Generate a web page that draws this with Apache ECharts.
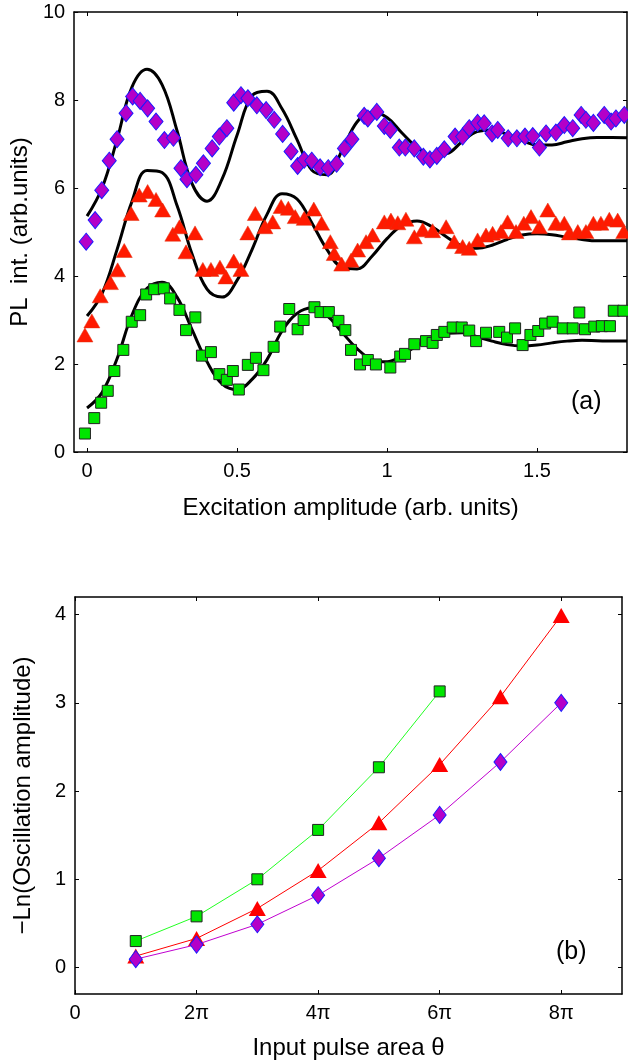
<!DOCTYPE html>
<html>
<head>
<meta charset="utf-8">
<script src="https://cdn.jsdelivr.net/npm/echarts@6/dist/echarts.min.js"></script>
<style>
html, body { margin: 0; padding: 0; background: #fff; }
#main { width: 628px; height: 1063px; }
</style>
</head>
<body>
<div id="main"></div>
<script>
// (a) measured PL intensity, x = excitation amplitude
var greenPts = [[-0.007,0.42],[0.024,0.77],[0.047,1.12],[0.069,1.39],[0.091,1.84],[0.121,2.32],[0.149,2.96],[0.177,3.11],[0.197,3.58],[0.224,3.70],[0.256,3.72],[0.277,3.49],[0.308,3.23],[0.330,2.77],[0.361,3.06],[0.383,2.19],[0.413,2.27],[0.441,1.77],[0.466,1.64],[0.486,1.84],[0.506,1.42],[0.536,1.98],[0.563,2.14],[0.588,1.86],[0.622,2.39],[0.644,2.85],[0.674,3.25],[0.702,2.79],[0.722,3.00],[0.758,3.29],[0.778,3.18],[0.806,3.18],[0.838,2.98],[0.861,2.77],[0.880,2.32],[0.910,1.99],[0.936,2.09],[0.963,1.99],[1.011,1.92],[1.044,2.17],[1.060,2.23],[1.091,2.45],[1.130,2.52],[1.152,2.48],[1.166,2.66],[1.191,2.73],[1.219,2.83],[1.249,2.83],[1.274,2.76],[1.297,2.52],[1.330,2.71],[1.374,2.73],[1.400,2.60],[1.427,2.81],[1.452,2.43],[1.478,2.66],[1.504,2.75],[1.527,2.92],[1.552,2.96],[1.586,2.81],[1.619,2.81],[1.641,3.17],[1.660,2.79],[1.691,2.85],[1.716,2.86],[1.743,2.86],[1.756,3.21],[1.788,3.21]];
var redPts = [[-0.007,2.66],[0.016,2.98],[0.044,3.55],[0.078,3.85],[0.102,4.14],[0.124,4.58],[0.147,5.42],[0.174,5.84],[0.202,5.92],[0.230,5.74],[0.252,5.50],[0.286,4.95],[0.308,5.12],[0.330,4.55],[0.360,4.98],[0.386,4.15],[0.413,4.15],[0.443,4.20],[0.463,3.98],[0.489,4.34],[0.513,4.15],[0.536,4.98],[0.561,5.42],[0.593,5.12],[0.619,5.23],[0.647,5.58],[0.671,5.54],[0.694,5.35],[0.724,5.31],[0.756,5.52],[0.782,5.20],[0.811,4.78],[0.824,4.51],[0.849,4.27],[0.880,4.36],[0.902,4.59],[0.930,4.78],[0.952,4.93],[0.991,5.23],[1.013,5.27],[1.036,5.21],[1.063,5.29],[1.091,4.89],[1.119,5.05],[1.152,5.03],[1.197,5.12],[1.224,4.78],[1.252,4.67],[1.274,4.63],[1.302,4.82],[1.330,4.93],[1.352,4.97],[1.380,5.01],[1.402,5.23],[1.430,5.01],[1.456,5.20],[1.480,5.35],[1.508,5.12],[1.536,5.50],[1.563,5.20],[1.591,5.20],[1.608,4.98],[1.636,5.01],[1.663,5.01],[1.688,5.20],[1.713,5.20],[1.741,5.29],[1.769,5.27],[1.789,5.01]];
var purplePts = [[-0.003,4.78],[0.027,5.27],[0.049,5.95],[0.074,6.62],[0.100,7.11],[0.130,7.70],[0.152,8.08],[0.177,7.98],[0.202,7.81],[0.230,7.51],[0.258,7.09],[0.288,7.14],[0.313,6.45],[0.333,6.20],[0.363,6.30],[0.388,6.56],[0.417,6.90],[0.441,7.17],[0.466,7.36],[0.489,7.94],[0.513,8.11],[0.536,8.04],[0.566,7.88],[0.597,7.77],[0.624,7.55],[0.652,7.23],[0.680,6.83],[0.702,6.50],[0.724,6.64],[0.749,6.62],[0.777,6.47],[0.804,6.45],[0.832,6.55],[0.858,6.90],[0.883,7.11],[0.924,7.64],[0.936,7.58],[0.966,7.73],[0.991,7.41],[1.011,7.32],[1.041,6.92],[1.061,6.92],[1.091,6.90],[1.121,6.71],[1.143,6.65],[1.166,6.73],[1.191,6.88],[1.227,7.17],[1.252,7.17],[1.274,7.36],[1.302,7.48],[1.324,7.47],[1.350,7.24],[1.369,7.32],[1.404,7.13],[1.433,7.13],[1.460,7.17],[1.486,7.18],[1.508,6.92],[1.530,7.24],[1.563,7.26],[1.591,7.43],[1.619,7.36],[1.647,7.66],[1.663,7.55],[1.688,7.48],[1.724,7.66],[1.747,7.51],[1.763,7.58],[1.791,7.66]];

var fitX = [0,0.05,0.10,0.15,0.20,0.25,0.30,0.35,0.40,0.45,0.50,0.55,0.60,0.65,0.70,0.75,0.80,0.85,0.90,0.95,1.00,1.05,1.10,1.15,1.20,1.25,1.30,1.35,1.40,1.45,1.50,1.55,1.60,1.65,1.70,1.75,1.80];
var fitGreen = [1.00,1.35,2.12,3.12,3.72,3.86,3.52,2.78,2.05,1.55,1.42,1.65,2.10,2.75,3.15,3.27,3.10,2.72,2.35,2.10,2.05,2.20,2.42,2.60,2.70,2.71,2.62,2.52,2.44,2.41,2.43,2.48,2.52,2.54,2.53,2.52,2.52];
var fitRed = [3.09,3.60,4.60,5.70,6.40,6.35,5.60,4.50,3.70,3.52,3.90,4.60,5.40,5.87,5.75,5.20,4.60,4.20,4.16,4.45,4.85,5.15,5.25,5.12,4.88,4.68,4.63,4.70,4.83,4.93,4.96,4.94,4.88,4.83,4.80,4.80,4.80];
var fitPurple = [5.36,6.00,7.10,8.30,8.70,8.35,7.30,6.10,5.70,6.20,7.20,8.10,8.20,7.80,7.10,6.40,6.30,6.85,7.50,7.72,7.60,7.25,6.92,6.74,6.78,7.05,7.28,7.32,7.22,7.08,6.98,6.98,7.05,7.12,7.15,7.15,7.14];

// (b) -Ln(oscillation amplitude) vs pulse area (units of pi)
var theta = [1,2,3,4,5,6,7,8];
var ampGreen = [0.30,0.58,1.00,1.56,2.27,3.13];
var ampRed = [0.13,0.33,0.67,1.10,1.64,2.30,3.07,3.99];
var ampPurple = [0.095,0.26,0.49,0.82,1.24,1.73,2.33,3.00];

var FONT = 'Liberation Sans';
var GREEN = '#00e600', RED = '#ff1a00', PURPLE = '#b400c8';

function pairs(xs, ys) {
    return ys.map(function (y, i) { return [xs[i], y]; });
}

function frameAxis(extra) {
    var a = {
        type: 'value',
        axisLine: { show: true, onZero: false, lineStyle: { color: '#000', width: 1.5 } },
        axisTick: { show: true, inside: true, length: 4, lineStyle: { color: '#000', width: 1 } },
        axisLabel: { show: false },
        splitLine: { show: false }
    };
    for (var k in extra) a[k] = extra[k];
    return a;
}
function ticksAt(vals) {
    return { show: true, inside: true, length: 4, customValues: vals, lineStyle: { color: '#000', width: 1 } };
}

var labelStyle = { color: '#000', fontFamily: FONT, fontSize: 20, margin: 9 };
var nameStyle = { color: '#000', fontFamily: FONT, fontSize: 24 };

var myChart = echarts.init(document.getElementById('main'));

option = {
    backgroundColor: '#fff',
    animation: false,
    grid: [
        { left: 73, top: 12, right: 1, bottom: 611 },
        { left: 75, top: 597, right: 6, bottom: 69 }
    ],
    xAxis: [
        frameAxis({
            gridIndex: 0, min: -0.043, max: 1.8, position: 'bottom',
            axisTick: ticksAt([0, 0.5, 1, 1.5]),
            axisLabel: Object.assign({ show: true, customValues: [0, 0.5, 1, 1.5] }, labelStyle),
            name: 'Excitation amplitude (arb. units)', nameLocation: 'middle', nameGap: 44,
            nameTextStyle: nameStyle
        }),
        frameAxis({ gridIndex: 0, min: -0.043, max: 1.8, position: 'top', axisTick: ticksAt([0, 0.5, 1, 1.5]) }),
        frameAxis({
            gridIndex: 1, min: 0, max: 9, position: 'bottom',
            axisTick: ticksAt([0, 2, 4, 6, 8]),
            axisLabel: Object.assign({
                show: true, customValues: [0, 2, 4, 6, 8],
                formatter: function (v) { return v === 0 ? '0' : v + 'π'; }
            }, labelStyle),
            name: 'Input pulse area θ', nameLocation: 'middle', nameGap: 42,
            nameTextStyle: nameStyle
        }),
        frameAxis({ gridIndex: 1, min: 0, max: 9, position: 'top', axisTick: ticksAt([0, 2, 4, 6, 8]) })
    ],
    yAxis: [
        frameAxis({
            gridIndex: 0, min: 0, max: 10, interval: 2, position: 'left',
            axisLabel: Object.assign({ show: true }, labelStyle),
            name: 'PL  int. (arb.units)', nameLocation: 'middle', nameGap: 38,
            nameTextStyle: nameStyle
        }),
        frameAxis({ gridIndex: 0, min: 0, max: 10, interval: 2, position: 'right' }),
        frameAxis({
            gridIndex: 1, min: -0.3, max: 4.2, position: 'left',
            axisTick: ticksAt([0, 1, 2, 3, 4]),
            axisLabel: Object.assign({ show: true, customValues: [0, 1, 2, 3, 4] }, labelStyle),
            name: '−Ln(Oscillation amplitude)', nameLocation: 'middle', nameGap: 40,
            nameTextStyle: nameStyle
        }),
        frameAxis({ gridIndex: 1, min: -0.3, max: 4.2, position: 'right', axisTick: ticksAt([0, 1, 2, 3, 4]) })
    ],
    series: [
        // fits
        { type: 'line', xAxisIndex: 0, yAxisIndex: 0, data: pairs(fitX, fitGreen), smooth: 0.4, showSymbol: false, lineStyle: { color: '#000', width: 3 }, z: 2 },
        { type: 'line', xAxisIndex: 0, yAxisIndex: 0, data: pairs(fitX, fitRed), smooth: 0.4, showSymbol: false, lineStyle: { color: '#000', width: 3 }, z: 2 },
        { type: 'line', xAxisIndex: 0, yAxisIndex: 0, data: pairs(fitX, fitPurple), smooth: 0.4, showSymbol: false, lineStyle: { color: '#000', width: 3 }, z: 2 },
        // measured points
        { type: 'scatter', xAxisIndex: 0, yAxisIndex: 0, data: greenPts, symbol: 'rect', symbolSize: 11,
          itemStyle: { color: GREEN, borderColor: '#222', borderWidth: 1, opacity: 1 }, z: 3 },
        { type: 'scatter', xAxisIndex: 0, yAxisIndex: 0, data: redPts, symbol: 'triangle', symbolSize: [16, 14],
          itemStyle: { color: RED, borderColor: '#e03010', borderWidth: 0.5, opacity: 1 }, z: 3 },
        { type: 'scatter', xAxisIndex: 0, yAxisIndex: 0, data: purplePts, symbol: 'diamond', symbolSize: [14, 17],
          itemStyle: { color: PURPLE, borderColor: '#1a1aff', borderWidth: 1, opacity: 1 }, z: 4 },
        // (b)
        { type: 'line', xAxisIndex: 2, yAxisIndex: 2, data: pairs(theta, ampGreen), symbol: 'rect', symbolSize: 11,
          lineStyle: { color: '#22ff22', width: 1 }, itemStyle: { color: GREEN, borderColor: '#222', borderWidth: 1 }, z: 3 },
        { type: 'line', xAxisIndex: 2, yAxisIndex: 2, data: pairs(theta, ampRed), symbol: 'triangle', symbolSize: [17, 15],
          lineStyle: { color: '#ff0000', width: 1 }, itemStyle: { color: '#ff0000', borderWidth: 0 }, z: 3 },
        { type: 'line', xAxisIndex: 2, yAxisIndex: 2, data: pairs(theta, ampPurple), symbol: 'diamond', symbolSize: [13, 17],
          lineStyle: { color: '#c000d0', width: 1 }, itemStyle: { color: PURPLE, borderColor: '#1a1aff', borderWidth: 1 }, z: 4 }
    ],
    graphic: [
        { type: 'text', left: 571, top: 390, style: { text: '(a)', fontFamily: FONT, fontSize: 25, fill: '#000' } },
        { type: 'text', left: 556, top: 940, style: { text: '(b)', fontFamily: FONT, fontSize: 25, fill: '#000' } }
    ]
};

if (option && typeof option === "object") {
    myChart.setOption(option, true);
}
</script>
</body>
</html>
